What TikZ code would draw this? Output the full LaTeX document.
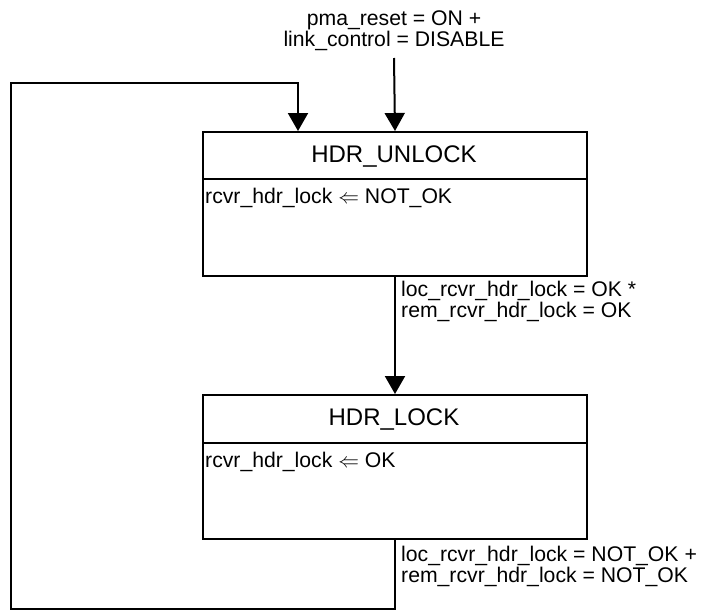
\documentclass[tikz,border=0pt]{standalone}
\usepackage{fontspec}
\setmainfont{Liberation Sans}
\usetikzlibrary{arrows.meta}
\tikzset{
  line/.style={line width=2pt},
  arr/.style={line width=2pt, -{Triangle[width=20pt,length=18pt]}},
  statebox/.style={draw, line width=2pt, minimum width=384pt, minimum height=144pt, anchor=north west, inner sep=0pt},
  titletext/.style={font=\fontsize{24}{28}\selectfont, inner sep=0pt, anchor=base},
  bodytext/.style={font=\fontsize{21.2}{21}\selectfont, inner sep=0pt, anchor=base west},
  lbltext/.style={font=\fontsize{21.2}{21}\selectfont, inner sep=0pt, align=left, anchor=north west},
  toptext/.style={font=\fontsize{21.2}{21}\selectfont, inner sep=0pt, align=center, anchor=north},
}
\begin{document}
\begin{tikzpicture}[x=1pt,y=-1pt]
\useasboundingbox (0,0) rectangle (701,613);
% states
\node[statebox] (u) at (202,131) {};
\node[statebox] (l) at (202,394) {};
\draw[line] (u.west |- 0,179) coordinate (ud1) -- (u.east |- 0,179) coordinate (ud2);
\draw[line] (l.west |- 0,443) coordinate (ld1) -- (l.east |- 0,443) coordinate (ld2);
\node[titletext] (ut) at (394,162) {HDR\_UNLOCK};
\node[titletext] (lt) at (394,425) {HDR\_LOCK};
\node[bodytext] (ub) at (205,203) {rcvr\_hdr\_lock $\Leftarrow$ NOT\_OK};
\node[bodytext] (lb) at (205,467) {rcvr\_hdr\_lock $\Leftarrow$ OK};
% labels
\node[toptext] (reset) at (394,10) {pma\_reset = ON +\\link\_control = DISABLE};
\node[lbltext] (c1) at (401,281) {loc\_rcvr\_hdr\_lock = OK *\\rem\_rcvr\_hdr\_lock = OK};
\node[lbltext] (c2) at (401,546) {loc\_rcvr\_hdr\_lock = NOT\_OK +\\rem\_rcvr\_hdr\_lock = NOT\_OK};
% connectors
\coordinate (s) at (394,58);
\coordinate (b1) at (11,609);
\coordinate (b2) at (298,83);
\draw[arr] (s) -- (u.north);
\draw[arr] (u.south) -- (l.north);
\draw[arr] (l.south) |- (b1) |- (b2) -- (u.north -| b2);
\end{tikzpicture}
\end{document}
